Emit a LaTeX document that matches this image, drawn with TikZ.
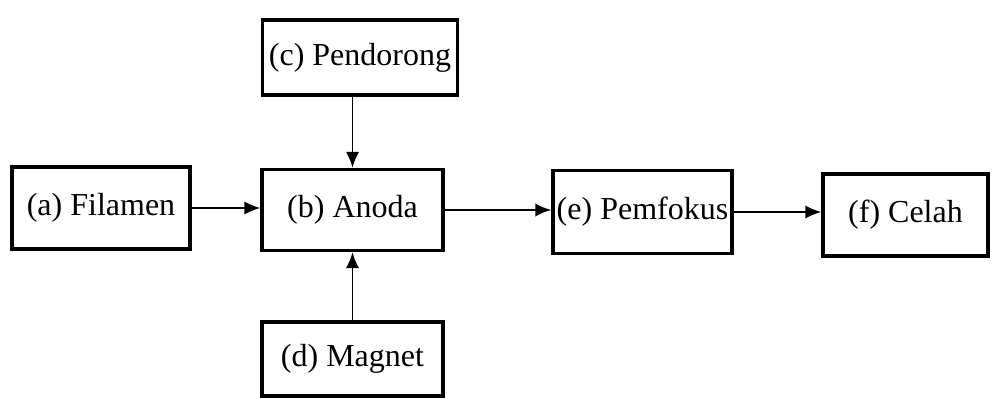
\documentclass[tikz,border=0pt]{standalone}
\usepackage{fontspec}
\setmainfont{Liberation Serif}
\usetikzlibrary{arrows.meta}

\begin{document}
\begin{tikzpicture}[
    x=0.75pt,y=-0.75pt,
    >={Latex[length=12pt,width=10pt]},
    part/.style={draw=black,line width=2.6pt,fill=white,inner sep=1pt,
        font=\fontsize{24}{28}\selectfont},
    flow/.style={->,line width=1.3pt,draw=black}]
\useasboundingbox (0,0) rectangle (992,398);
\node[part,minimum width=133.5pt,minimum height=61.5pt] (filamen) at (101,208) {(a) Filamen};
\node[part,minimum width=135.75pt,minimum height=60.75pt] (anoda) at (352.5,210) {(b) Anoda};
\node[part,minimum width=146pt,minimum height=56.25pt] (pendorong) at (360,57.5) {(c) Pendorong};
\node[part,minimum width=135.75pt,minimum height=55.5pt] (magnet) at (352.5,359) {(d) Magnet};
\node[part,minimum width=134.25pt,minimum height=62.25pt] (pemfokus) at (642.5,212) {(e) Pemfokus};
\node[part,minimum width=123.75pt,minimum height=61.5pt] (celah) at (905.5,215) {(f) Celah};
\draw[flow] (filamen.east)--(filamen.east -| anoda.west);
\draw[flow] (pendorong.south -| anoda.north)--(anoda.north);
\draw[flow] (magnet.north)--(anoda.south);
\draw[flow] (anoda.east)--(anoda.east -| pemfokus.west);
\draw[flow] (pemfokus.east)--(pemfokus.east -| celah.west);
\end{tikzpicture}
\end{document}
